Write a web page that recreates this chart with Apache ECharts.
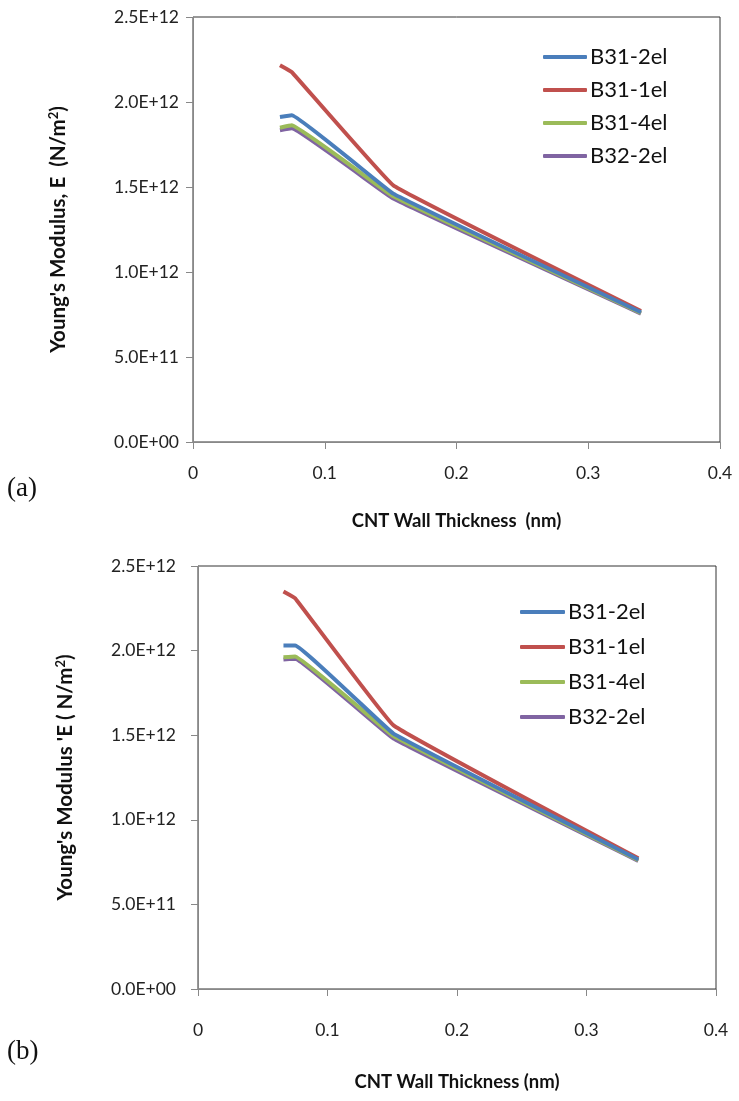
<!doctype html>
<html>
<head>
<meta charset="utf-8">
<title>CNT Young's Modulus</title>
<script src="https://cdn.jsdelivr.net/npm/echarts@6/dist/echarts.min.js"></script>
<style type="text/css">
	html, body{margin:0; padding:0; background:#fff;}
	#chart{width:739px; height:1101px;}
</style>
</head>
<body>
<div id="chart"></div>
<script type="text/javascript">
// wall thickness (nm)
var thickA = [0.066, 0.075, 0.152, 0.34];
var thickB = [0.066, 0.075, 0.151, 0.34];
var names = ['B31-2el', 'B31-1el', 'B31-4el', 'B32-2el'];
var colors = ['#4a7ebb', '#c0504d', '#9bbb59', '#8064a2'];
// Young's modulus, panel (a)
var a_b312el = [1.912e12, 1.922e12, 1.461e12, 0.763e12];
var a_b311el = [2.216e12, 2.176e12, 1.510e12, 0.771e12];
var a_b314el = [1.849e12, 1.863e12, 1.445e12, 0.759e12];
var a_b322el = [1.834e12, 1.845e12, 1.432e12, 0.755e12];
// Young's modulus, panel (b)
var b_b312el = [2.030e12, 2.030e12, 1.509e12, 0.765e12];
var b_b311el = [2.350e12, 2.310e12, 1.558e12, 0.772e12];
var b_b314el = [1.960e12, 1.965e12, 1.495e12, 0.761e12];
var b_b322el = [1.948e12, 1.952e12, 1.480e12, 0.757e12];
var yTicks = [0, 0.5e12, 1.0e12, 1.5e12, 2.0e12, 2.5e12];
var xTicks = [0, 0.1, 0.2, 0.3, 0.4];

var chart = echarts.init(document.getElementById('chart'));
var FONT = 'Lato';

function fmtE(v){
	if (v === 0) return '0.0E+00';
	var e = Math.floor(Math.log10(Math.abs(v)) + 1e-9);
	var m = v / Math.pow(10, e);
	return m.toFixed(1) + 'E+' + (e < 10 ? '0' : '') + e;
}
function zip(xs, ys){
	var out = [];
	for (var i = 0; i < xs.length; i++) out.push([xs[i], ys[i]]);
	return out;
}

function xAx(idx, gap, margin, title){
	return {
		type: 'value', gridIndex: idx,
		min: xTicks[0], max: xTicks[xTicks.length - 1], interval: 0.1,
		name: title, nameLocation: 'middle', nameGap: gap,
		nameTextStyle: {fontFamily: FONT, fontWeight: 'bold', fontSize: 18.5, color: '#111'},
		axisLine: {show: true, onZero: false, lineStyle: {color: '#888', width: 1}},
		axisTick: {show: true, inside: false, length: 7, lineStyle: {color: '#888'}},
		axisLabel: {fontFamily: FONT, fontSize: 17.5, color: '#222', margin: margin,
			formatter: function(v){ return v === 0 ? '0' : (+v.toFixed(1)) + ''; }},
		splitLine: {show: false}
	};
}
function yAx(idx, gap, margin, title){
	return {
		type: 'value', gridIndex: idx,
		min: yTicks[0], max: yTicks[yTicks.length - 1], interval: 0.5e12,
		name: title, nameLocation: 'middle', nameGap: gap, nameRotate: 90,
		nameTextStyle: {fontFamily: FONT, fontWeight: 'bold', fontSize: 20.5, color: '#111',
			rich: {s: {fontFamily: FONT, fontWeight: 'bold', fontSize: 13, color: '#111', verticalAlign: 'top', padding: [0, 0, 9, 0]}}},
		axisLine: {show: true, onZero: false, lineStyle: {color: '#888', width: 1}},
		axisTick: {show: true, inside: false, length: 7, lineStyle: {color: '#888'}},
		axisLabel: {fontFamily: FONT, fontSize: 17.5, color: '#222', margin: margin, formatter: fmtE},
		splitLine: {show: false}
	};
}

var dataA = [a_b312el, a_b311el, a_b314el, a_b322el];
var dataB = [b_b312el, b_b311el, b_b314el, b_b322el];
var series = [];
for (var i = 0; i < names.length; i++){
	series.push({name: names[i], type: 'line', xAxisIndex: 0, yAxisIndex: 0,
		data: zip(thickA, dataA[i]), symbol: 'none', smooth: 0.06,
		lineStyle: {width: 4, color: colors[i]}, itemStyle: {color: colors[i]}, z: 10 - i});
	series.push({name: names[i], type: 'line', xAxisIndex: 1, yAxisIndex: 1,
		data: zip(thickB, dataB[i]), symbol: 'none', smooth: 0.06,
		lineStyle: {width: 4, color: colors[i]}, itemStyle: {color: colors[i]}, z: 10 - i});
}

var option = {
	animation: false,
	backgroundColor: '#fff',
	grid: [
		{left: 193, top: 17, width: 527, height: 425, show: true, borderColor: '#333', borderWidth: 1, backgroundColor: 'transparent'},
		{left: 198, top: 566, width: 518, height: 423, show: true, borderColor: '#333', borderWidth: 1, backgroundColor: 'transparent'}
	],
	xAxis: [xAx(0, 70, 22, 'CNT Wall Thickness  (nm)'), xAx(1, 84, 32, 'CNT Wall Thickness (nm)')],
	yAxis: [yAx(0, 124, 14, "Young's Modulus, E  (N/m{s|2})"), yAx(1, 122, 22, "Young's Modulus 'E ( N/m{s|2})")],
	legend: [
		{data: names, left: 538, top: 41, orient: 'vertical', itemWidth: 44, itemHeight: 4, itemGap: 11,
			icon: 'roundRect', textStyle: {fontFamily: FONT, fontSize: 22, color: '#111', padding: [0, 0, 0, -2]}},
		{data: names, left: 515, top: 596, orient: 'vertical', itemWidth: 45, itemHeight: 4, itemGap: 13,
			icon: 'roundRect', textStyle: {fontFamily: FONT, fontSize: 22, color: '#111', padding: [0, 0, 0, -2]}}
	],
	graphic: [
		{type: 'text', left: 7, top: 475, style: {text: '(a)', font: '27px "Liberation Serif"', fill: '#111'}},
		{type: 'text', left: 7, top: 1038, style: {text: '(b)', font: '27px "Liberation Serif"', fill: '#111'}}
	],
	series: series
};
chart.setOption(option);
</script>
</body>
</html>
